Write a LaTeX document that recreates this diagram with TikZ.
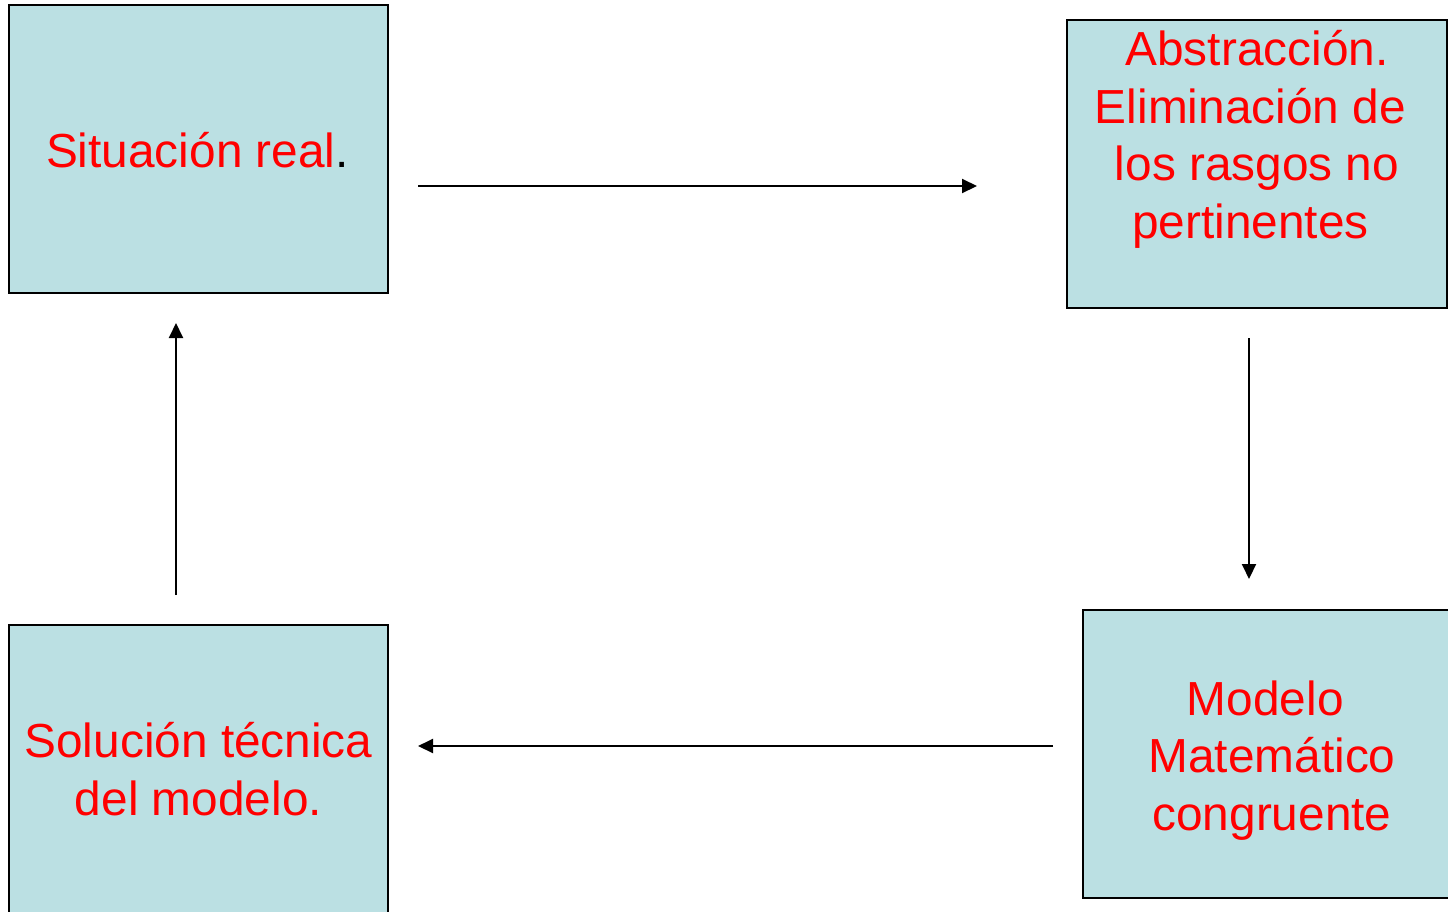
\documentclass[tikz,border=0pt]{standalone}
\usepackage{fontspec}
\setmainfont{Liberation Sans}
\usetikzlibrary{arrows.meta}
\definecolor{boxfill}{RGB}{187,224,227}
\definecolor{txtred}{RGB}{255,0,0}
\tikzset{
  stagebox/.style={draw=black, line width=2pt, fill=boxfill, rectangle,
    minimum width=#1, minimum height=288pt, inner sep=0pt},
  stagetext/.style={text=txtred, align=center, anchor=base, inner sep=0pt,
    font=\fontsize{47.8}{57.5}\selectfont},
  flow/.style={draw=black, line width=2pt,
    -{Triangle[length=15pt, width=14pt]}}
}
\begin{document}
\begin{tikzpicture}[x=1pt, y=-1pt]
  \clip (0,0) rectangle (1448,911);
  \fill[white] (0,0) rectangle (1448,911);

  % the four stages
  \node[stagebox=379pt] (real) at (198.5,149) {};
  \node[stagebox=380pt] (abstr) at (1257,163.5) {};
  \node[stagebox=378pt] (modelo) at (1272,754) {};
  \node[stagebox=379pt] (sol) at (198.5,769) {};

  % texts, placed by the baseline of their last line
  \node[stagetext] (realtxt) at (197.5,167) {Situación real\textcolor{black}{.}};
  \node[stagetext] (abstrtxt) at (1257,238)
    {Abstracción.\\Eliminación de\kern0.278em\\los rasgos no\\pertinentes\kern0.278em};
  \node[stagetext] (modelotxt) at (1272,830)
    {Modelo\kern0.278em\\Matemático\\congruente};
  \node[stagetext] (soltxt) at (198.5,815) {Solución técnica\\del modelo.};

  % connector end points, set apart from the boxes
  \coordinate (a1s) at (418,186);
  \coordinate (a1e) at (977,186);
  \coordinate (a2s) at (1249,338);
  \coordinate (a2e) at (1249,579);
  \coordinate (a3s) at (1053,746);
  \coordinate (a3e) at (418,746);
  \coordinate (a4s) at (176,595);
  \coordinate (a4e) at (176,323);

  \draw[flow] (a1s) -- (a1e);
  \draw[flow] (a2s) -- (a2e);
  \draw[flow] (a3s) -- (a3e);
  \draw[flow] (a4s) -- (a4e);
\end{tikzpicture}
\end{document}
